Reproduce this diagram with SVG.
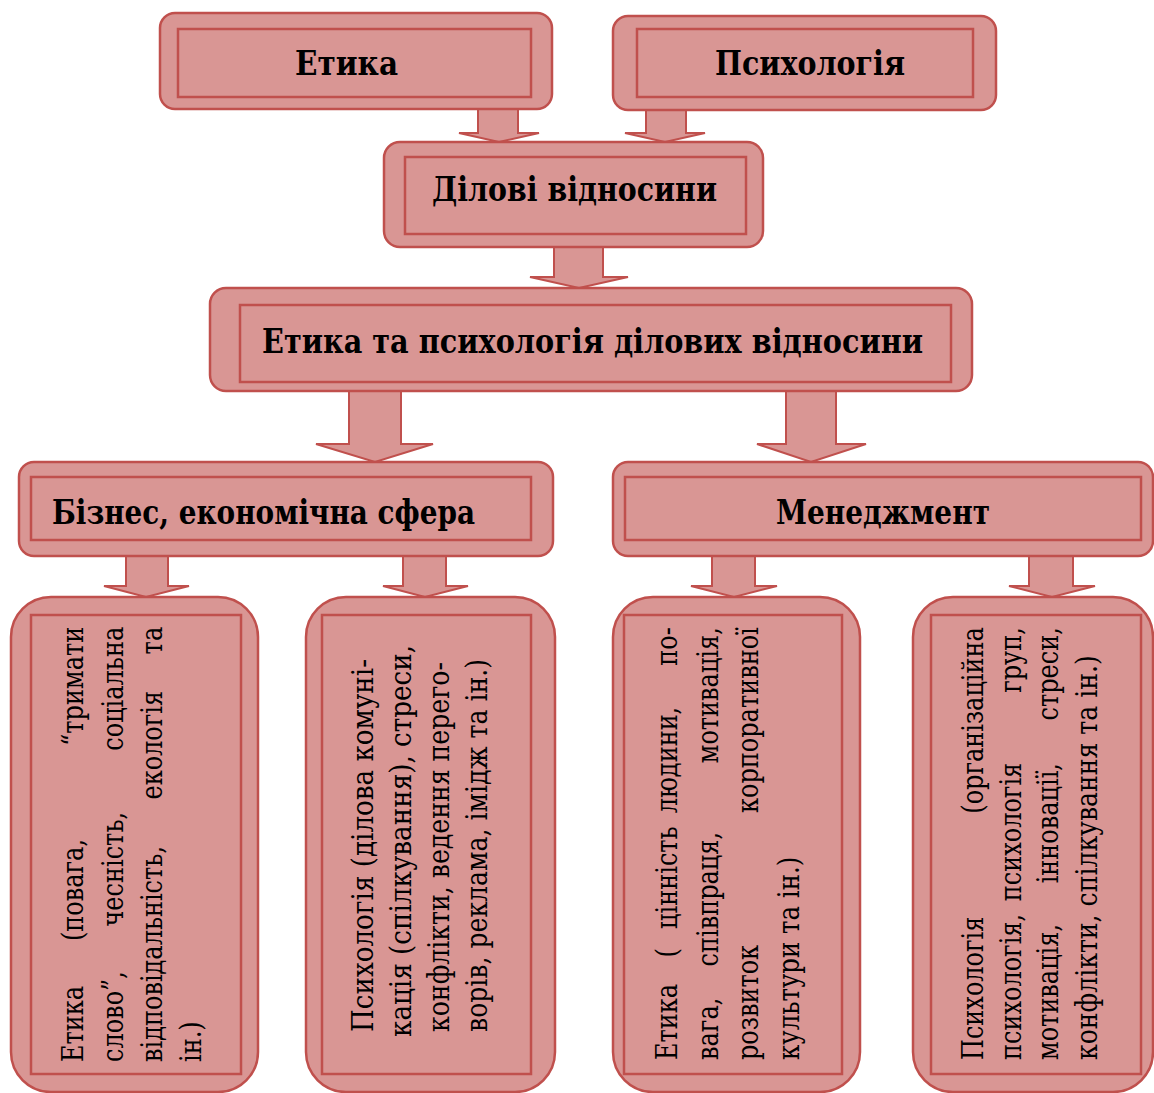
<svg xmlns="http://www.w3.org/2000/svg" width="1154" height="1093" viewBox="0 0 1154 1093">
<style>
.o{fill:#d99694;stroke:#c0504d;stroke-width:2.5}
.i{fill:none;stroke:#c0504d;stroke-width:2.5}
.a{fill:#d99694;stroke:#c0504d;stroke-width:2;stroke-linejoin:miter}
.t{font-family:'DejaVu Serif',serif;font-weight:bold;font-size:34px;fill:#000}
.v{font-family:'DejaVu Serif',serif;font-size:30px;fill:#000}
.e{text-anchor:end}
.m{text-anchor:middle}
</style>
<rect width="1154" height="1093" fill="#fff"/>
<g id="connectors">
<polygon class="a" points="478,108 518,108 518,133 539,133 499,142 459,133 478,133"/>
<polygon class="a" points="646,110 686,110 686,133 705,133 665,142 625,133 646,133"/>
<polygon class="a" points="554,247 603,247 603,277 628,277 579,288 530,277 554,277"/>
<polygon class="a" points="349,391 401,391 401,444 433,444 375,462 316,444 349,444"/>
<polygon class="a" points="786,391 836,391 836,444 866,444 811,462 757,444 786,444"/>
<polygon class="a" points="126,556 168,556 168,586 189,586 146,597 104,586 126,586"/>
<polygon class="a" points="403,556 446,556 446,586 468,586 425,597 383,586 403,586"/>
<polygon class="a" points="712,556 755,556 755,586 777,586 734,597 691,586 712,586"/>
<polygon class="a" points="1029,556 1073,556 1073,586 1095,586 1052,597 1009,586 1029,586"/>
</g>
<g id="n-etyka">
<rect class="o" x="160" y="13" width="392" height="96" rx="15"/>
<rect class="i" x="178" y="29" width="353" height="68"/>
<text class="t" x="295" y="75" textLength="103" lengthAdjust="spacingAndGlyphs">Етика</text>
</g>
<g id="n-psykholohiia">
<rect class="o" x="613" y="16" width="383" height="94" rx="15"/>
<rect class="i" x="637" y="29" width="336" height="68"/>
<text class="t" x="715" y="75" textLength="190" lengthAdjust="spacingAndGlyphs">Психологія</text>
</g>
<g id="n-dilovi">
<rect class="o" x="384" y="142" width="379" height="105" rx="16"/>
<rect class="i" x="405" y="157" width="341" height="77"/>
<text class="t" x="432" y="201" textLength="285" lengthAdjust="spacingAndGlyphs">Ділові відносини</text>
</g>
<g id="n-etyka-psykholohiia">
<rect class="o" x="210" y="288" width="762" height="103" rx="16"/>
<rect class="i" x="240" y="305" width="711" height="77"/>
<text class="t" x="262" y="353" textLength="661" lengthAdjust="spacingAndGlyphs">Етика та психологія ділових відносини</text>
</g>
<g id="n-biznes">
<rect class="o" x="19" y="462" width="534" height="94" rx="15"/>
<rect class="i" x="31" y="477" width="500" height="63"/>
<text class="t" x="52" y="524" textLength="423" lengthAdjust="spacingAndGlyphs">Бізнес, економічна сфера</text>
</g>
<g id="n-menedzhment">
<rect class="o" x="613" y="462" width="540" height="94" rx="15"/>
<rect class="i" x="625" y="477" width="516" height="63"/>
<text class="t" x="776" y="524" textLength="214" lengthAdjust="spacingAndGlyphs">Менеджмент</text>
</g>
<g id="n-biznes-etyka">
<rect class="o" x="11" y="597" width="247" height="495" rx="40"/>
<rect class="i" x="31" y="615" width="210" height="459"/>
<g transform="translate(0,1062) rotate(-90) scale(0.8,1)">
<text class="v" x="0" y="83">Етика</text>
<text class="v m" x="215" y="83">(повага,</text>
<text class="v e" x="544" y="83">“тримати</text>
<text class="v" x="0" y="123">слово”,</text>
<text class="v m" x="241" y="123">чесність,</text>
<text class="v e" x="544" y="123">соціальна</text>
<text class="v" x="0" y="162">відповідальність,</text>
<text class="v m" x="396" y="162">екологія</text>
<text class="v e" x="544" y="162">та</text>
<text class="v" x="0" y="201">ін.)</text>
</g>
</g>
<g id="n-biznes-psykholohiia">
<rect class="o" x="306" y="597" width="249" height="495" rx="40"/>
<rect class="i" x="322" y="615" width="209" height="459"/>
<g transform="translate(0,1032) rotate(-90)">
<text class="v" x="0" y="373" textLength="373" lengthAdjust="spacingAndGlyphs">Психологія (ділова комуні-</text>
<text class="v" x="-5" y="411" textLength="392" lengthAdjust="spacingAndGlyphs">кація (спілкування), стреси,</text>
<text class="v" x="0" y="449" textLength="370" lengthAdjust="spacingAndGlyphs">конфлікти, ведення перего-</text>
<text class="v" x="0" y="487" textLength="373" lengthAdjust="spacingAndGlyphs">ворів, реклама, імідж та ін.)</text>
</g>
</g>
<g id="n-menedzhment-etyka">
<rect class="o" x="613" y="597" width="247" height="495" rx="40"/>
<rect class="i" x="624" y="615" width="218" height="459"/>
<g transform="translate(0,1060) rotate(-90) scale(0.8,1)">
<text class="v" x="0" y="677">Етика</text>
<text class="v m" x="134" y="677">(</text>
<text class="v m" x="228" y="677">цінність</text>
<text class="v m" x="375" y="677">людини,</text>
<text class="v e" x="541" y="677">по-</text>
<text class="v" x="0" y="718">вага,</text>
<text class="v m" x="201" y="718">співпраця,</text>
<text class="v e" x="541" y="718">мотивація,</text>
<text class="v" x="0" y="758">розвиток</text>
<text class="v e" x="541" y="758">корпоративної</text>
<text class="v" x="0" y="799" textLength="254" lengthAdjust="spacingAndGlyphs">культури та ін.)</text>
</g>
</g>
<g id="n-menedzhment-psykholohiia">
<rect class="o" x="913" y="597" width="240" height="495" rx="40"/>
<rect class="i" x="931" y="615" width="210" height="459"/>
<g transform="translate(0,1060) rotate(-90) scale(0.8,1)">
<text class="v" x="0" y="983">Психологія</text>
<text class="v e" x="541" y="983">(організаційна</text>
<text class="v" x="0" y="1021">психологія,</text>
<text class="v m" x="285" y="1021">психологія</text>
<text class="v e" x="541" y="1021">груп,</text>
<text class="v" x="0" y="1058">мотивація,</text>
<text class="v m" x="296" y="1058">інновації,</text>
<text class="v e" x="541" y="1058">стреси,</text>
<text class="v" x="0" y="1097" textLength="506" lengthAdjust="spacingAndGlyphs">конфлікти, спілкування та ін.)</text>
</g>
</g>
</svg>
